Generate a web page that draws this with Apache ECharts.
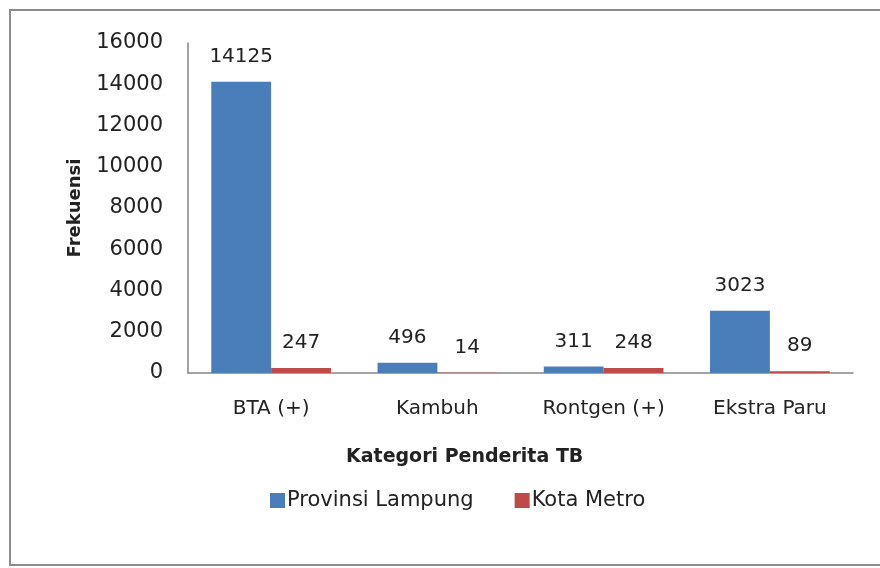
<!DOCTYPE html>
<html>
<head>
<meta charset="utf-8">
<script src="https://cdn.jsdelivr.net/npm/echarts@6/dist/echarts.min.js"></script>
<style>
  html, body { margin: 0; padding: 0; background: #fff; }
  #chart { width: 880px; height: 568px; }
</style>
</head>
<body>
<div id="chart"></div>
<script>
// data
var categories = ['BTA (+)', 'Kambuh', 'Rontgen (+)', 'Ekstra Paru']
var provinsiLampung = [14125, 496, 311, 3023]
var kotaMetro = [247, 14, 248, 89]
var yTicks = { min: 0, max: 16000, interval: 2000 }

var myChart = echarts.init(document.getElementById('chart'))

var labelStyle = {
    show: true,
    position: 'top',
    distance: 15,
    color: '#222',
    fontFamily: 'DejaVu Sans',
    fontSize: 20
}

var option = {
    backgroundColor: '#fff',
    animation: false,
    // outer frame like the excel chart area
    graphic: [{
        type: 'rect',
        shape: { x: 10, y: 10, width: 880, height: 555 },
        style: { fill: 'none', stroke: '#8c8c8c', lineWidth: 2 },
        silent: true
    }],
    title: {
        text: 'Kategori Penderita TB',
        left: 341,
        top: 443,
        textStyle: {
            fontFamily: 'DejaVu Sans',
            fontWeight: 'bold',
            fontSize: 19,
            color: '#222'
        }
    },
    legend: {
        left: 265,
        top: 485,
        icon: 'rect',
        itemWidth: 15,
        itemHeight: 15,
        itemGap: 41,
        textStyle: {
            fontFamily: 'DejaVu Sans',
            fontSize: 21,
            color: '#222',
            padding: [0, 0, 0, -3]
        },
        data: ['Provinsi Lampung', 'Kota Metro']
    },
    grid: {
        left: 188,
        right: 27,
        top: 43,
        bottom: 195,
        containLabel: false
    },
    xAxis: {
        type: 'category',
        data: categories,
        axisLine: { lineStyle: { color: '#868686', width: 1.5 } },
        axisTick: { show: false },
        axisLabel: {
            color: '#222',
            fontFamily: 'DejaVu Sans',
            fontSize: 20,
            margin: 26
        }
    },
    yAxis: {
        type: 'value',
        min: yTicks.min,
        max: yTicks.max,
        interval: yTicks.interval,
        name: 'Frekuensi',
        nameLocation: 'middle',
        nameGap: 104,
        nameTextStyle: {
            fontFamily: 'DejaVu Sans',
            fontWeight: 'bold',
            fontSize: 18,
            color: '#222'
        },
        splitLine: { show: false },
        axisLine: { show: true, lineStyle: { color: '#868686', width: 1.5 } },
        axisTick: { show: false },
        axisLabel: {
            color: '#222',
            fontFamily: 'DejaVu Sans',
            fontSize: 21,
            margin: 25,
            formatter: function (v) { return String(v) }
        }
    },
    series: [
        {
            name: 'Provinsi Lampung',
            type: 'bar',
            data: provinsiLampung,
            barGap: '0%',
            barCategoryGap: '28%',
            itemStyle: { color: '#4a7ebb' },
            label: labelStyle
        },
        {
            name: 'Kota Metro',
            type: 'bar',
            data: kotaMetro,
            itemStyle: { color: '#be4b48' },
            label: labelStyle
        }
    ]
}
myChart.setOption(option)
</script>
</body>
</html>
